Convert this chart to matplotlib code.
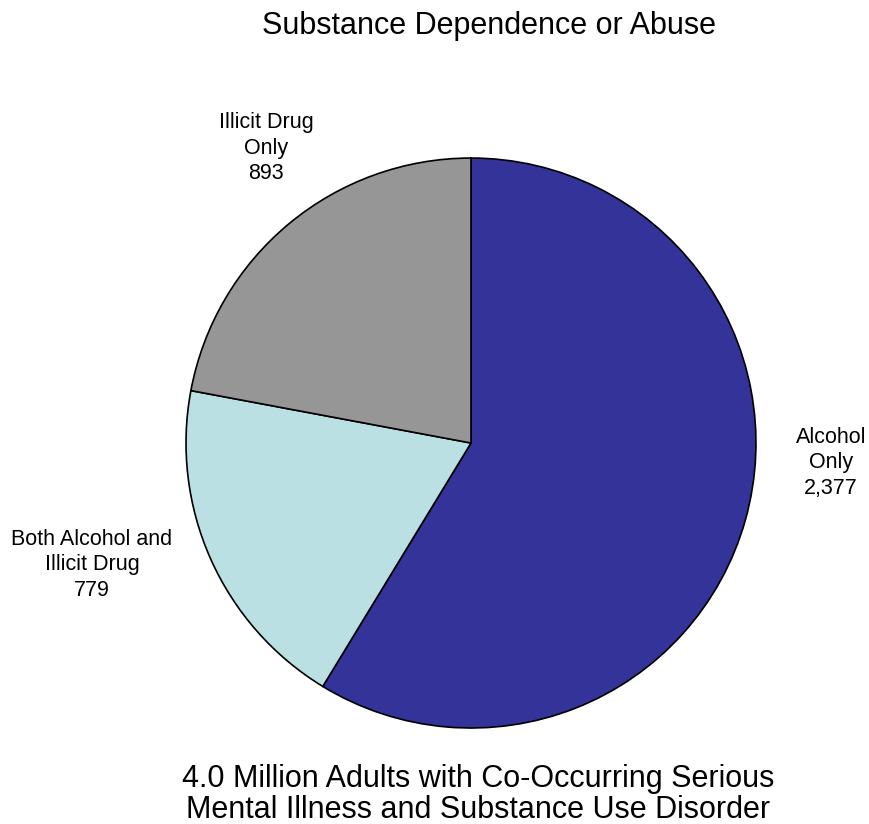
import matplotlib.pyplot as plt

plt.rcParams['font.family'] = ['Liberation Sans', 'DejaVu Sans']

categories = ['Alcohol\nOnly', 'Both Alcohol and\nIllicit Drug', 'Illicit Drug\nOnly']
values = [2377, 779, 893]
colors = ['#333399', '#BBE0E3', '#969696']
# label positions in pie units (radius 1)
label_pos = [(1.263, -0.07), (-1.33, -0.428), (-0.719, 1.035)]

fig = plt.figure(figsize=(8.69, 8.24), dpi=100)
ax = fig.add_axes([0.214, 0.1165, 0.656, 0.6917])

ax.pie(values, colors=colors, startangle=90, counterclock=False,
       wedgeprops=dict(edgecolor='black', linewidth=1.2))
ax.set_xlim(-1, 1)
ax.set_ylim(-1, 1)
ax.set_aspect('equal')

for cat, v, (x, y) in zip(categories, values, label_pos):
    ax.text(x, y, f'{cat}\n{v:,}', ha='center', va='center', fontsize=15.5,
            linespacing=1.3, clip_on=False)

fig.text(0.563, 0.969, 'Substance Dependence or Abuse', ha='center', va='center',
         fontsize=22)
fig.text(0.55, 0.036, '4.0 Million Adults with Co-Occurring Serious\nMental Illness and Substance Use Disorder',
         ha='center', va='center', fontsize=22, linespacing=1.05)

fig.savefig('out.png', dpi=100)
